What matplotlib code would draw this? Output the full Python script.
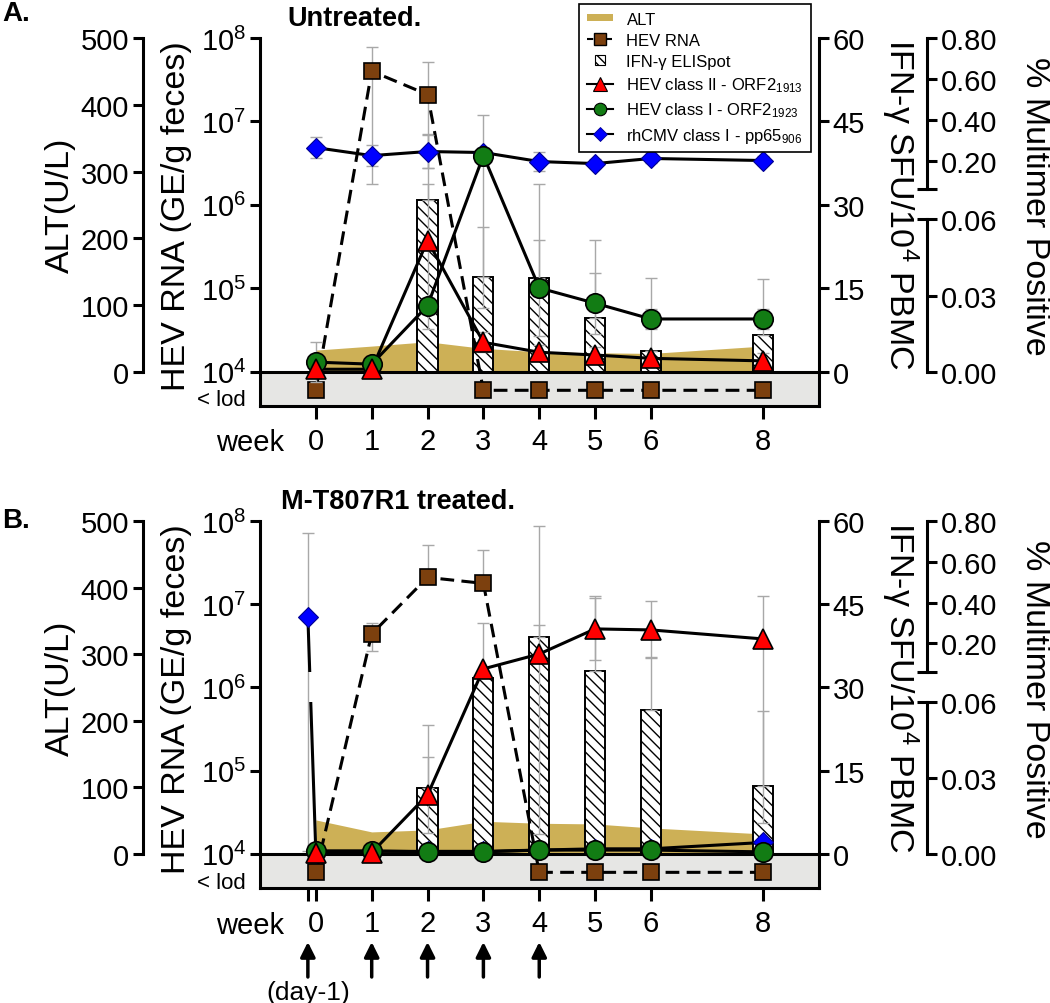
import numpy as np
import matplotlib
matplotlib.use("Agg")
import matplotlib.pyplot as plt
import matplotlib.transforms as mtransforms
from matplotlib.patches import Rectangle, Patch
from matplotlib.path import Path
from matplotlib.lines import Line2D
from matplotlib.legend_handler import HandlerPatch
from matplotlib.ticker import NullLocator

plt.rcParams["font.family"] = ["Liberation Sans", "DejaVu Sans"]
plt.rcParams["mathtext.fontset"] = "custom"
plt.rcParams["mathtext.rm"] = "Liberation Sans"
plt.rcParams["mathtext.it"] = "Liberation Sans:italic"
plt.rcParams["mathtext.bf"] = "Liberation Sans:bold"
plt.rcParams["hatch.linewidth"] = 1.0
plt.rcParams["axes.linewidth"] = 2.2

nan = np.nan

# ------------------------------------------------------------------ data
weeks = [0, 1, 2, 3, 4, 5, 6, 8]
week_labels = ["0", "1", "2", "3", "4", "5", "6", "8"]
b_ticks = [-1 / 7, 0, 1, 2, 3, 4, 5, 6, 8]
b_tick_labels = ["", "0", "1", "2", "3", "4", "5", "6", "8"]
b_cmv_x = [-1 / 7, 0, 1, 2, 3, 4, 5, 6, 8]
arrow_weeks = [-1 / 7, 1, 2, 3, 4]
LOD = 6.0e3  # plotted position of "< lod"

alt_ticks = [0, 100, 200, 300, 400, 500]
rna_ticks = [1e4, 1e5, 1e6, 1e7, 1e8]
rna_tick_labels = [r"$\mathregular{10^{4}}$", r"$\mathregular{10^{5}}$", r"$\mathregular{10^{6}}$",
                   r"$\mathregular{10^{7}}$", r"$\mathregular{10^{8}}$"]
ifn_ticks = [0, 15, 30, 45, 60]
mm_hi_ticks = [0.2, 0.4, 0.6, 0.8]
mm_hi_labels = ["0.20", "0.40", "0.60", "0.80"]
mm_lo_ticks = [0.0, 0.03, 0.06]
mm_lo_labels = ["0.00", "0.03", "0.06"]

# Panel A: untreated
a_alt = [32.5, 38.5, 45, 35, 30, 28.5, 27.5, 38.5]
a_rna = [LOD, 4.0e7, 2.1e7, LOD, LOD, LOD, LOD, LOD]
a_rna_hi = [nan, 7.8e7, 5.2e7, nan, nan, nan, nan, nan]
a_rna_lo = [nan, 1.8e6, 2.8e6, nan, nan, nan, nan, nan]
a_ifn = [0, 0, 30.8, 17.1, 16.8, 9.7, 3.8, 6.7]
a_ifn_err = [0, 0, 12, 9, 17, 14, 13, 10]
a_cls2 = [0.001, 0.001, 0.0517, 0.0116, 0.0077, 0.0066, 0.0053, 0.0043]
a_cls2_err = [0, 0, 0.035, 0.004, 0.003, 0.003, 0.003, 0.003]
a_cls1 = [0.0038, 0.003, 0.026, 0.225, 0.033, 0.027, 0.0208, 0.0208]
a_cls1_err = [0.008, 0, 0, 0.2, 0.019, 0.012, 0.004, 0.004]
a_cmv = [0.264, 0.225, 0.245, 0.240, 0.196, 0.186, 0.211, 0.201]
a_cmv_err = [0.05, 0.05, 0.08, 0.02, 0.045, 0.02, 0.02, 0.02]

# Panel B: M-T807R1 treated
b_alt = [51, 33, 36, 49, 46, 45, 39, 30]
b_rna = [LOD, 4.4e6, 2.1e7, 1.78e7, LOD, LOD, LOD, LOD]
b_rna_hi = [nan, 6.0e6, 5.2e7, 4.5e7, nan, nan, nan, nan]
b_rna_lo = [nan, 2.75e6, nan, nan, nan, nan, nan, nan]
b_ifn = [0, 0, 11.8, 31.7, 39.1, 32.9, 26.0, 12.2]
b_ifn_err = [0, 0, 11.5, 10, 20, 13.5, 9.5, 13.5]
b_cls2 = [0.0005, 0.0005, 0.0233, 0.075, 0.148, 0.271, 0.266, 0.222]
b_cls2_err = [0, 0, 0.015, 0, 0.14, 0.15, 0.14, 0.21]
b_cls1 = [0.0012, 0.0012, 0.0008, 0.0008, 0.0015, 0.0015, 0.0015, 0.0008]
b_cls1_err = [0, 0, 0, 0, 0, 0, 0, 0]
b_cmv = [0.331, 0.0003, 0.001, 0.001, 0.001, 0.0015, 0.002, 0.002, 0.0045]
b_cmv_err_lo = [0.33, 0, 0, 0, 0, 0, 0, 0, 0]
b_cmv_err_hi = [0.41, 0, 0, 0, 0, 0, 0, 0, 0]

# ------------------------------------------------------------------ style
C_ALT = "#cdb056"
C_RNA = "#7c400e"
C_RED = "#ff0000"
C_GRN = "#127c14"
C_BLU = "#0000ff"
C_ERR = "#a8a8a8"
C_LOD = "#e6e6e4"
LW = 2.2
TICK_FS = 21
LAB_FS = 24.5

W, H = 1050, 1004
fig = plt.figure(figsize=(W / 100, H / 100), dpi=100)


def px_rect(l, t, r, b):
    return [l / W, 1 - b / H, (r - l) / W, (b - t) / H]


def ftext(x, y, s, **kw):
    fig.text(x / W, 1 - y / H, s, **kw)


LOG_BOT = 3.59
R0 = (4 - LOG_BOT) / (8 - LOG_BOT)
RR = R0 / (1 - R0)          # extension below zero as fraction of positive span

A_LO = 152 / 333            # lower multimer segment (0 - 0.06)
B_HI = 182 / 333            # start of upper multimer segment (0.06 - 0.80)


def mm_fwd(v):
    v = np.asarray(v, dtype=float)
    return np.where(v <= 0.06, v / 0.06 * A_LO, B_HI + (v - 0.06) * (1 - B_HI) / 0.74)


def mm_inv(u):
    u = np.asarray(u, dtype=float)
    return np.where(u <= A_LO, u / A_LO * 0.06,
                    np.where(u < B_HI, 0.06, 0.06 + (u - B_HI) * 0.74 / (1 - B_HI)))


def hide_spines(a):
    for s in a.spines.values():
        s.set_visible(False)


def errbars(axh, x, y, lo, hi, z):
    x = np.asarray(x, float)
    y = np.asarray(y, float)
    lo = np.nan_to_num(np.asarray(lo, float))
    hi = np.nan_to_num(np.asarray(hi, float))
    m = (lo > 0) | (hi > 0)
    if m.any():
        axh.errorbar(x[m], y[m], yerr=[lo[m], hi[m]], fmt="none", ecolor=C_ERR,
                     elinewidth=1.0, capsize=4, capthick=1.0, zorder=z)


def mm_line(axm, x, y, gap):
    if not gap:
        axm.plot(x, y, color="k", lw=LW, zorder=3)
        return
    # the line is interrupted where it crosses the axis break (axes-fraction clip)
    lo_top = (A_LO + RR) / (1 + RR)
    hi_bot = (B_HI + RR) / (1 + RR)
    for y0, y1 in [(-0.5, lo_top), (hi_bot, 1.5)]:
        ln, = axm.plot(x, y, color="k", lw=LW, zorder=3)
        clip = Path([(-0.5, y0), (1.5, y0), (1.5, y1), (-0.5, y1), (-0.5, y0)],
                    closed=True)
        ln.set_clip_path(clip, axm.transAxes)


def panel(top, bottom, d):
    ax = fig.add_axes(px_rect(260, top, 818.5, bottom))
    ax.set_yscale("log")
    ax.set_ylim(10 ** LOG_BOT, 1e8)
    ax.set_xlim(-1, 9)
    ax.axhspan(10 ** LOG_BOT, 1e4, facecolor=C_LOD, edgecolor="none", zorder=0)
    ax.spines["top"].set_visible(False)
    ax.spines["right"].set_visible(False)
    ax.set_yticks(rna_ticks, rna_tick_labels)
    ax.yaxis.set_minor_locator(NullLocator())
    ax.tick_params(axis="y", length=7, width=LW, labelsize=TICK_FS, pad=3)
    ax.set_xticks(d["xticks"], d["xlabels"])
    ax.xaxis.set_minor_locator(NullLocator())
    ax.tick_params(axis="x", length=9, width=LW, labelsize=TICK_FS, pad=6)

    # ALT axis (far left)
    alt = ax.twinx()
    hide_spines(alt)
    alt.spines["left"].set_visible(True)
    alt.spines["left"].set_position(("outward", 117 * 0.72))
    alt.spines["left"].set_bounds(0, 500)
    alt.yaxis.tick_left()
    alt.set_ylim(-500 * RR, 500)
    alt.set_yticks(alt_ticks, [str(t) for t in alt_ticks])
    alt.tick_params(axis="y", length=7, width=LW, labelsize=TICK_FS, pad=3)
    alt.fill_between(weeks, 0, d["alt"], color=C_ALT, lw=0, zorder=1)

    # IFN-gamma axis (right spine of box)
    ifn = ax.twinx()
    hide_spines(ifn)
    ifn.spines["right"].set_visible(True)
    ifn.set_ylim(-60 * RR, 60)
    ifn.set_yticks(ifn_ticks, [str(t) for t in ifn_ticks])
    ifn.tick_params(axis="y", length=7, width=LW, labelsize=TICK_FS, pad=3)
    ifn.bar(weeks, d["ifn"], width=0.36, color="white", edgecolor="black",
            hatch="\\\\\\", lw=1.4, zorder=2)
    errbars(ifn, weeks, d["ifn"], [0] * len(weeks), d["ifn_err"], 2.5)
    ifn.axhline(0, color="k", lw=LW, zorder=4)

    # HEV RNA (log, same as main)
    rna = ax.twinx()
    hide_spines(rna)
    rna.set_yscale("log")
    rna.set_ylim(10 ** LOG_BOT, 1e8)
    rna.set_yticks([])
    rna.yaxis.set_minor_locator(NullLocator())
    rna.tick_params(right=False, labelright=False)
    r = np.asarray(d["rna"])
    errbars(rna, weeks, r, r - np.asarray(d["rna_lo"]), np.asarray(d["rna_hi"]) - r, 1)
    rna.plot(weeks, d["rna"], color="k", lw=LW, dashes=(4.5, 2.4), zorder=2)
    rna.plot(weeks, d["rna"], ls="none", marker="s", ms=11.5, mfc=C_RNA, mec="k",
             mew=1.2, zorder=3)

    # multimer axes (broken)
    mms = []
    for bounds, ticks, labels in [((0.0601, 0.8), mm_hi_ticks, mm_hi_labels),
                                  ((0.0, 0.06), mm_lo_ticks, mm_lo_labels)]:
        m = ax.twinx()
        hide_spines(m)
        m.set_yscale("function", functions=(mm_fwd, mm_inv))
        m.set_ylim(float(mm_inv(-RR)), 0.8)
        m.spines["right"].set_visible(True)
        m.spines["right"].set_position(("outward", 108 * 0.72))
        m.spines["right"].set_bounds(*bounds)
        m.set_yticks(ticks, labels)
        m.tick_params(axis="y", which="major", length=7, width=LW,
                      labelsize=TICK_FS, pad=3)
        m.yaxis.remove_overlapping_locs = False
        mms.append(m)
    mm_hi, mm_lo = mms
    mm_hi.set_yticks([0.0601], minor=True)
    mm_hi.tick_params(axis="y", which="minor", direction="inout", length=14, width=LW)
    mm_lo.set_yticks([0.06], minor=True)
    mm_lo.tick_params(axis="y", which="minor", direction="in", length=7, width=LW)

    m = mm_lo
    errbars(m, d["cmv_x"], d["cmv"], d["cmv_err_lo"], d["cmv_err_hi"], 2)
    errbars(m, weeks, d["cls1"], d["cls1_err"], d["cls1_err"], 2)
    errbars(m, weeks, d["cls2"], d["cls2_err"], d["cls2_err"], 2)
    mm_line(m, d["cmv_x"], d["cmv"], d["gap"])
    mm_line(m, weeks, d["cls1"], False)
    mm_line(m, weeks, d["cls2"], False)
    m.plot(d["cmv_x"], d["cmv"], ls="none", marker="D", ms=10, mfc=C_BLU,
           mec="#000090", mew=0.8, zorder=4)
    m.plot(weeks, d["cls1"], ls="none", marker="o", ms=14, mfc=C_GRN, mec="k",
           mew=1.2, zorder=4)
    m.plot(weeks, d["cls2"], ls="none", marker="^", ms=15, mfc=C_RED, mec="k",
           mew=1.2, zorder=4)
    ax.set_xlim(-1, 9)
    return ax


dA = dict(xticks=weeks, xlabels=week_labels, alt=a_alt, rna=a_rna, rna_hi=a_rna_hi,
          rna_lo=a_rna_lo, ifn=a_ifn, ifn_err=a_ifn_err, cls2=a_cls2, cls2_err=a_cls2_err,
          cls1=a_cls1, cls1_err=a_cls1_err, cmv_x=weeks, cmv=a_cmv, cmv_err_lo=a_cmv_err,
          cmv_err_hi=a_cmv_err, gap=False)
dB = dict(xticks=b_ticks, xlabels=b_tick_labels, alt=b_alt, rna=b_rna, rna_hi=b_rna_hi,
          rna_lo=b_rna_lo, ifn=b_ifn, ifn_err=b_ifn_err, cls2=b_cls2, cls2_err=b_cls2_err,
          cls1=b_cls1, cls1_err=b_cls1_err, cmv_x=b_cmv_x, cmv=b_cmv,
          cmv_err_lo=b_cmv_err_lo, cmv_err_hi=b_cmv_err_hi, gap=True)

axA = panel(39, 407, dA)
axB = panel(522, 889, dB)

# ------------------------------------------------------------------ texts
for dy in (0, 483):
    ftext(60, 205 + dy, "ALT(U/L)", rotation=90, ha="center", va="center", fontsize=LAB_FS)
    ftext(177, 216 + dy, "HEV RNA (GE/g feces)", rotation=90, ha="center", va="center",
          fontsize=LAB_FS)
    ftext(900, 204 + dy, r"IFN-γ SFU/10$^{\mathregular{4}}$ PBMC", rotation=270,
          ha="center", va="center", fontsize=LAB_FS)
    ftext(1034, 206 + dy, "% Multimer Positive", rotation=270, ha="center", va="center",
          fontsize=LAB_FS)
    ftext(246, 401 + dy, "< lod", ha="right", va="center", fontsize=16)
    ftext(250, 443 + dy, "week", ha="center", va="center", fontsize=TICK_FS)

ftext(2, 14, "A.", ha="left", va="center", fontsize=20, weight="bold")
ftext(2, 521, "B.", ha="left", va="center", fontsize=20, weight="bold")
ftext(287, 19, "Untreated.", ha="left", va="center", fontsize=19.5, weight="bold")
ftext(281, 502, "M-T807R1 treated.", ha="left", va="center", fontsize=19.5, weight="bold")

# treatment arrows (panel B)
tr = mtransforms.blended_transform_factory(axB.transData, fig.transFigure)
for w in arrow_weeks:
    axB.annotate("", xy=(w, 1 - 943 / H), xytext=(w, 1 - 978 / H), xycoords=tr,
                 textcoords=tr, annotation_clip=False,
                 arrowprops=dict(arrowstyle="-|>", color="k", lw=2.5, mutation_scale=22,
                                 shrinkA=0, shrinkB=0))
axB.text(arrow_weeks[0], 1 - 993 / H, "(day-1)", transform=tr, ha="center", va="center",
         fontsize=19)


# ------------------------------------------------------------------ legend
def thin_rect(legend, orig_handle, xdescent, ydescent, width, height, fontsize):
    h = height * 0.55
    return Rectangle((-xdescent, -ydescent + (height - h) / 2), width, h)


def small_square(legend, orig_handle, xdescent, ydescent, width, height, fontsize):
    s = height * 0.85
    return Rectangle((-xdescent + (width - s) / 2, -ydescent + (height - s) / 2), s, s)


h_alt = Patch(facecolor=C_ALT, edgecolor="none")
h_rna = Line2D([], [], color="k", lw=1.5, dashes=(3, 1.5), marker="s", ms=8, mfc=C_RNA,
               mec="k", mew=1)
h_ifn = Patch(facecolor="white", edgecolor="black", hatch="\\\\\\\\", lw=0.8)
h_c2 = Line2D([], [], color="k", lw=1.5, marker="^", ms=10, mfc=C_RED, mec="k", mew=0.8)
h_c1 = Line2D([], [], color="k", lw=1.5, marker="o", ms=9, mfc=C_GRN, mec="k", mew=0.8)
h_cmv = Line2D([], [], color="k", lw=1.5, marker="D", ms=7, mfc=C_BLU, mec="#000090",
               mew=0.6)
leg = fig.legend([h_alt, h_rna, h_ifn, h_c2, h_c1, h_cmv],
                 ["ALT", "HEV RNA", "IFN-γ ELISpot", r"HEV class II - ORF2$_{\mathregular{1913}}$",
                  r"HEV class I - ORF2$_{\mathregular{1923}}$",
                  r"rhCMV class I - pp65$_{\mathregular{906}}$"],
                 loc="upper left", bbox_to_anchor=(579 / W, 1 - 5 / H), borderaxespad=0,
                 fontsize=12, frameon=True, fancybox=False, framealpha=1,
                 edgecolor="black", handlelength=1.6, handletextpad=0.8,
                 labelspacing=0.38, borderpad=0.45,
                 handler_map={h_alt: HandlerPatch(patch_func=thin_rect),
                              h_ifn: HandlerPatch(patch_func=small_square)})
leg.get_frame().set_linewidth(1.2)

fig.savefig("out.png", dpi=100)
